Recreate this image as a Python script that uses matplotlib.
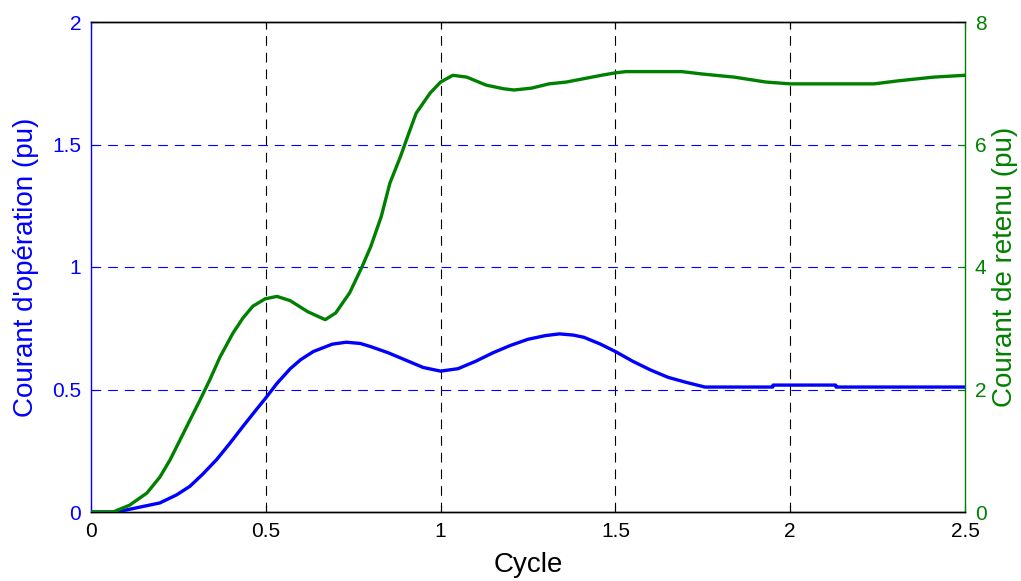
import matplotlib
matplotlib.use("Agg")
import matplotlib.pyplot as plt

plt.rcParams['font.family'] = ['Liberation Sans', 'DejaVu Sans']
plt.rcParams['lines.scale_dashes'] = False

# Operating current (left axis, pu)
op_x = [0, 0.063, 0.1, 0.14, 0.197, 0.245, 0.283, 0.32, 0.36, 0.397, 0.435, 0.474, 0.498,
        0.532, 0.57, 0.6, 0.636, 0.69, 0.73, 0.77, 0.8, 0.85, 0.9, 0.95, 1.0, 1.05, 1.1,
        1.15, 1.2, 1.25, 1.3, 1.34, 1.38, 1.41, 1.456, 1.5, 1.55, 1.6, 1.65, 1.7, 1.756,
        1.95, 1.951, 2.13, 2.131, 2.5]
op_y = [0, 0.0, 0.008, 0.02, 0.037, 0.07, 0.105, 0.155, 0.215, 0.28, 0.35, 0.42, 0.462,
        0.525, 0.585, 0.622, 0.655, 0.685, 0.693, 0.688, 0.675, 0.65, 0.62, 0.59, 0.575, 0.585, 0.615,
        0.65, 0.68, 0.705, 0.72, 0.727, 0.722, 0.713, 0.686, 0.655, 0.615, 0.58, 0.55, 0.53, 0.51,
        0.51, 0.518, 0.518, 0.51, 0.51]

# Restraint current (right axis, pu)
re_x = [0, 0.063, 0.11, 0.16, 0.197, 0.226, 0.255, 0.283, 0.312, 0.34, 0.369, 0.406, 0.435,
        0.463, 0.498, 0.532, 0.57, 0.62, 0.67, 0.7, 0.74, 0.775, 0.8, 0.83, 0.855, 0.885,
        0.905, 0.93, 0.97, 1.0, 1.035, 1.075, 1.13, 1.18, 1.21, 1.26, 1.31, 1.36, 1.46,
        1.5, 1.53, 1.69, 1.75, 1.84, 1.93, 2.0, 2.24, 2.31, 2.41, 2.5]
re_y = [0, 0.0, 0.11, 0.31, 0.57, 0.85, 1.18, 1.5, 1.83, 2.16, 2.53, 2.92, 3.17,
        3.36, 3.48, 3.52, 3.45, 3.27, 3.14, 3.25, 3.58, 4.0, 4.33, 4.82, 5.37, 5.8,
        6.12, 6.51, 6.84, 7.02, 7.13, 7.1, 6.97, 6.91, 6.89, 6.92, 6.99, 7.02, 7.13,
        7.17, 7.19, 7.19, 7.15, 7.1, 7.02, 6.99, 6.99, 7.04, 7.1, 7.13]

x_ticks = [0, 0.5, 1, 1.5, 2, 2.5]
x_tick_labels = ['0', '0.5', '1', '1.5', '2', '2.5']
left_ticks = [0, 0.5, 1, 1.5, 2]
left_tick_labels = ['0', '0.5', '1', '1.5', '2']
right_ticks = [0, 2, 4, 6, 8]
right_tick_labels = ['0', '2', '4', '6', '8']

BLUE = '#0000ff'
GREEN = '#008000'

fig = plt.figure(figsize=(10.21, 5.81), dpi=100)
ax = fig.add_axes([91/1021, 1 - 512/581, (965 - 91)/1021, (512 - 22)/581])
ax2 = ax.twinx()

ax.set_xlim(0, 2.5)
ax.set_ylim(0, 2)
ax2.set_ylim(0, 8)

# grid
for xv in x_ticks[1:-1]:
    ax.axvline(xv, color='black', lw=0.8, linestyle=(0, (7, 5)), zorder=1)
for yv in left_ticks[1:-1]:
    ax.axhline(yv, color=BLUE, lw=0.8, linestyle=(0, (7, 5)), zorder=1)

ax.plot(op_x, op_y, color=BLUE, lw=2.4, zorder=3)
ax2.plot(re_x, re_y, color=GREEN, lw=2.4, zorder=3)

ax.set_xticks(x_ticks)
ax.set_xticklabels(x_tick_labels)
ax.set_yticks(left_ticks)
ax.set_yticklabels(left_tick_labels)
ax2.set_yticks(right_ticks)
ax2.set_yticklabels(right_tick_labels)

ax.tick_params(axis='x', direction='in', length=5, labelsize=15, colors='black', pad=7, top=True)
ax.tick_params(axis='y', direction='in', length=5, labelsize=15, colors=BLUE, pad=7)
ax2.tick_params(axis='y', direction='in', length=5, labelsize=15, colors=GREEN, pad=7)

ax.spines['left'].set_color(BLUE)
ax.spines['right'].set_visible(False)
ax2.spines['right'].set_color(GREEN)
ax2.spines['left'].set_visible(False)
for a in (ax, ax2):
    for s in a.spines.values():
        s.set_linewidth(1.0)

ax.set_xlabel('Cycle', fontsize=20)
ax.set_ylabel("Courant d'opération (pu)", fontsize=20, color=BLUE)
ax2.set_ylabel('Courant de retenu (pu)', fontsize=20, color=GREEN)
ax.xaxis.set_label_coords(0.5, -0.082)
ax.yaxis.set_label_coords(-0.060, 0.5)
ax2.yaxis.set_label_coords(1.031, 0.5)

fig.savefig('out.png', dpi=100)
